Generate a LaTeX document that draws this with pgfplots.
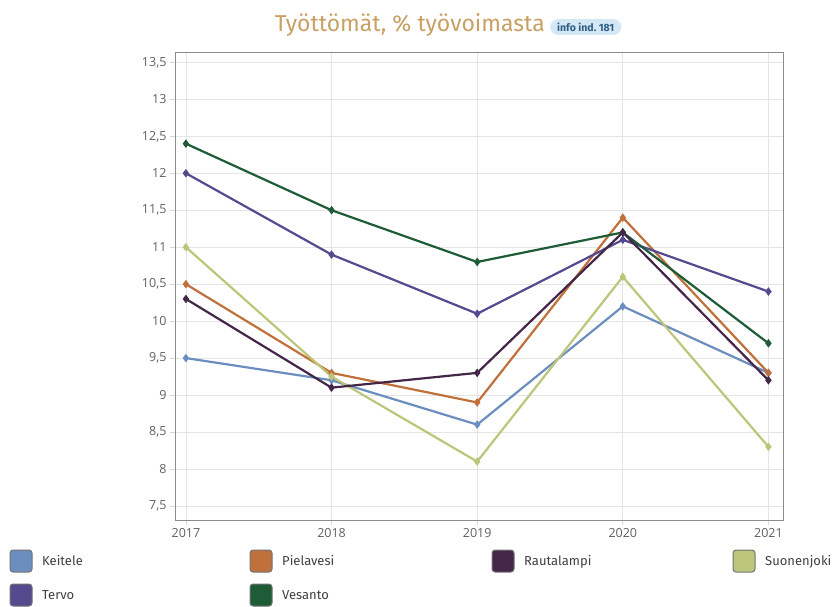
\documentclass[border=0pt]{standalone}
\usepackage{pgfplots}
\pgfplotsset{compat=1.18}
\usepackage{fontspec}
\setmainfont{Open Sans}
\newfontfamily\titlefont{Fira Sans}
\newfontfamily\legfont{Fira Sans}
\definecolor{ckeitele}{HTML}{6C8EBF}
\definecolor{cpiela}{HTML}{C0703A}
\definecolor{crauta}{HTML}{432648}
\definecolor{csuonen}{HTML}{BCC67A}
\definecolor{ctervo}{HTML}{554A8F}
\definecolor{cvesanto}{HTML}{1E5C38}
\definecolor{ctitle}{HTML}{C9A063}
\definecolor{cbadge}{HTML}{D3E7F4}
\definecolor{cbadgetxt}{HTML}{2F5F86}
\definecolor{ctick}{HTML}{606060}
\begin{document}
\begin{tikzpicture}
\path[use as bounding box] (0pt,0pt) rectangle (833pt,-606pt);
\begin{axis}[
  at={(175pt,-520pt)}, anchor=south west,
  scale only axis, width=608pt, height=468pt,
  xmin=2016.925, xmax=2021.1, ymin=7.31, ymax=13.64,
  xtick={2017,2018,2019,2020,2021},
  xticklabels={2017,2018,2019,2020,2021},
  ytick={7.5,8,8.5,9,9.5,10,10.5,11,11.5,12,12.5,13,13.5},
  yticklabel style={/pgf/number format/.cd,use comma,fixed,precision=1},
  /pgf/number format/assume math mode=true,
  ticklabel style={font=\fontsize{12.5}{14}\selectfont, text=ctick},
  grid=major,
  major grid style={draw=black!10, line width=0.8pt},
  axis line style={draw=black!45, line width=0.8pt},
  tick style={draw=black!15, line width=0.8pt},
  tick align=outside,
  major tick length=5pt,
  xtick pos=bottom, ytick pos=left,
  every axis plot/.append style={line width=2.2pt, mark=diamond*, mark size=2.5pt, mark options={solid}},
]
\addplot[color=ckeitele] coordinates {(2017,9.5) (2018,9.2) (2019,8.6) (2020,10.2) (2021,9.3)};
\addplot[color=cpiela] coordinates {(2017,10.5) (2018,9.3) (2019,8.9) (2020,11.4) (2021,9.3)};
\addplot[color=csuonen] coordinates {(2017,11.0) (2018,9.25) (2019,8.1) (2020,10.6) (2021,8.3)};
\addplot[color=ctervo] coordinates {(2017,12.0) (2018,10.9) (2019,10.1) (2020,11.1) (2021,10.4)};
\addplot[color=cvesanto] coordinates {(2017,12.4) (2018,11.5) (2019,10.8) (2020,11.2) (2021,9.7)};
\addplot[color=crauta] coordinates {(2017,10.3) (2018,9.1) (2019,9.3) (2020,11.2) (2021,9.2)};
\end{axis}
% title
\node[anchor=base east, text=ctitle, font=\titlefont\fontsize{23}{27}\selectfont, inner sep=0pt] at (545pt,-31pt) {Työttömät, \% työvoimasta};
\node[anchor=west, fill=cbadge, rounded corners=8pt, inner xsep=7pt, inner ysep=3.5pt, text=cbadgetxt, font=\titlefont\bfseries\fontsize{10.5}{12}\selectfont] at (550pt,-27pt) {info ind.\ 181};
% legend
\foreach \x/\y/\c/\t in {10/561/ckeitele/Keitele, 250/561/cpiela/Pielavesi, 492/561/crauta/Rautalampi, 733/561/csuonen/Suonenjoki, 10/595/ctervo/Tervo, 250/595/cvesanto/Vesanto}{
  \draw[fill=\c, draw=black!55, line width=1pt, rounded corners=3pt] (\x pt,-\y pt+11pt) rectangle (\x pt+22pt,-\y pt-11pt);
  \node[anchor=base west, text=black!75, font=\legfont\fontsize{13}{15}\selectfont, inner sep=0pt] at (\x pt+32pt,-\y pt-4.5pt) {\t};
}
\end{tikzpicture}
\end{document}
